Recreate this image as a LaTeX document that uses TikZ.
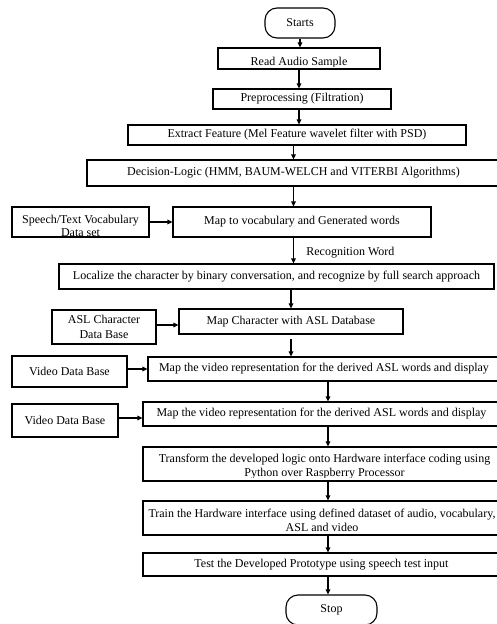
\documentclass[tikz,border=0pt]{standalone}
\usepackage{fontspec}
\setmainfont{Liberation Serif}
\usetikzlibrary{arrows.meta,calc}
\begin{document}
\begin{tikzpicture}[x=1pt,y=-1pt,
  every node/.style={font=\fontsize{12}{14.4}\selectfont, text=black},
  box/.style={draw, line width=1.1pt, inner sep=0pt, align=center},
  term/.style={box, rounded corners=12pt},
  txt/.style={inner sep=0pt, anchor=base},
  arr/.style={line width=1.1pt, -{Triangle[length=5pt,width=4.5pt]}},
]
\useasboundingbox (0,0) rectangle (497,624);
\clip (0,0) rectangle (497,624);

% main column
\node[term, minimum width=70pt, minimum height=30pt] (start) at (300,23) {Starts};
\node[box, minimum width=162pt, minimum height=21pt] (read) at (299,58.5) {};
\begin{scope}
  \clip (read.north west) rectangle ([yshift=3.2pt]read.south east);
  \node[txt] (readtxt) at ($(read.center)+(0,7)$) {Read Audio Sample};
\end{scope}
\node[box, minimum width=178pt, minimum height=20pt] (pre) at (302,99) {Preprocessing (Filtration)};
\node[box, minimum width=338pt, minimum height=20pt] (ext) at (297,135) {Extract Feature (Mel Feature wavelet filter with PSD)};
\node[box, minimum width=413pt, minimum height=26pt] (dec) at (293.5,173) {Decision-Logic (HMM, BAUM-WELCH and VITERBI Algorithms)};

\node[box, minimum width=137pt, minimum height=30pt] (spv) at (80.5,222) {};
\begin{scope}
  \clip (spv.north west) rectangle ([yshift=2.5pt]spv.south east);
  \node[txt] (spvtxta) at ($(spv.center)+(0,1)$) {Speech/Text Vocabulary};
  \node[txt] (spvtxtb) at ($(spv.center)+(0,14.5)$) {Data set};
\end{scope}
\node[box, minimum width=258pt, minimum height=30pt] (mv) at (302,222) {Map to vocabulary and Generated words};

\node[box, minimum width=435pt, minimum height=25pt] (loc) at (276.5,276.5) {Localize the character by binary conversation, and recognize by full search approach};

\node[box, minimum width=104pt, minimum height=34pt] (asl) at (104,327) {ASL Character\\Data Base};
\node[box, minimum width=224pt, minimum height=25pt] (mc) at (291,321.5) {Map Character with ASL Database};

\node[box, minimum width=115pt, minimum height=31pt] (vdb1) at (69.5,371.5) {Video Data Base};
\node[box, minimum width=352pt, minimum height=24pt] (mv1) at (324,369) {Map the video representation for the derived ASL words and display};

\node[box, minimum width=106pt, minimum height=33pt] (vdb2) at (65,420.5) {Video Data Base};
\node[box, minimum width=357pt, minimum height=24pt] (mv2) at (321.5,414) {Map the video representation for the derived ASL words and display};

\node[box, minimum width=357pt, minimum height=34pt] (tr) at (321.5,464) {};
\begin{scope}
  \clip (tr.north west) rectangle ([yshift=4.2pt]tr.south east);
  \node[txt] (trtxta) at (324.5,462.3) {Transform the developed logic onto Hardware interface coding using};
  \node[txt] (trtxtb) at (324.5,476.3) {Python over Raspberry Processor};
\end{scope}

\node[box, minimum width=357pt, minimum height=34pt] (train) at (321.5,518) {};
\node[txt] (traintxta) at (322,517) {Train the Hardware interface using defined dataset of audio, vocabulary,};
\node[txt] (traintxtb) at (322,531) {ASL and video};

\node[box, minimum width=357pt, minimum height=23pt] (test) at (321.5,564.5) {Test the Developed Prototype using speech test input};
\node[term, minimum width=91pt, minimum height=30pt] (stop) at (331.5,610) {Stop};

\coordinate (ax) at ([xshift=-3.5pt]stop.north);

% connectors
\draw[arr] (start.south) -- (start.south |- read.north);
\draw[arr] (read.south) -- (read.south |- pre.north);
\draw[arr] (pre.south -| read.south) -- (read.south |- ext.north);
\draw[arr] (ext.south -| dec.north) -- (dec.north);
\draw[arr] (dec.south) -- (dec.south |- mv.north);
\draw[arr] (spv.east) -- (mv.west);
\draw[arr] (dec.south |- mv.south) -- (dec.south |- loc.north)
  node[pos=0.6, anchor=west, xshift=9pt] (rw) {Recognition Word};
\draw[arr] (mc.north |- loc.south) -- (mc.north);
\draw[arr] ([yshift=2pt]asl.east) -- ([yshift=2pt]asl.east -| mc.west);
\draw[arr] ([yshift=-4pt]mc.south) -- (mc.south |- mv1.north);
\draw[arr] (vdb1.east |- mv1.west) -- (mv1.west);
\draw[arr] ([yshift=2.5pt]vdb2.east) -- ([yshift=2.5pt]vdb2.east -| mv2.west);
\draw[arr] (ax |- mv1.south) -- (ax |- mv2.north);
\draw[arr] (ax |- mv2.south) -- (ax |- tr.north);
\draw[arr] (ax |- tr.south) -- (ax |- train.north);
\draw[arr] (ax |- train.south) -- (ax |- test.north);
\draw[arr] (ax |- test.south) -- (stop.north -| ax);
\end{tikzpicture}
\end{document}
